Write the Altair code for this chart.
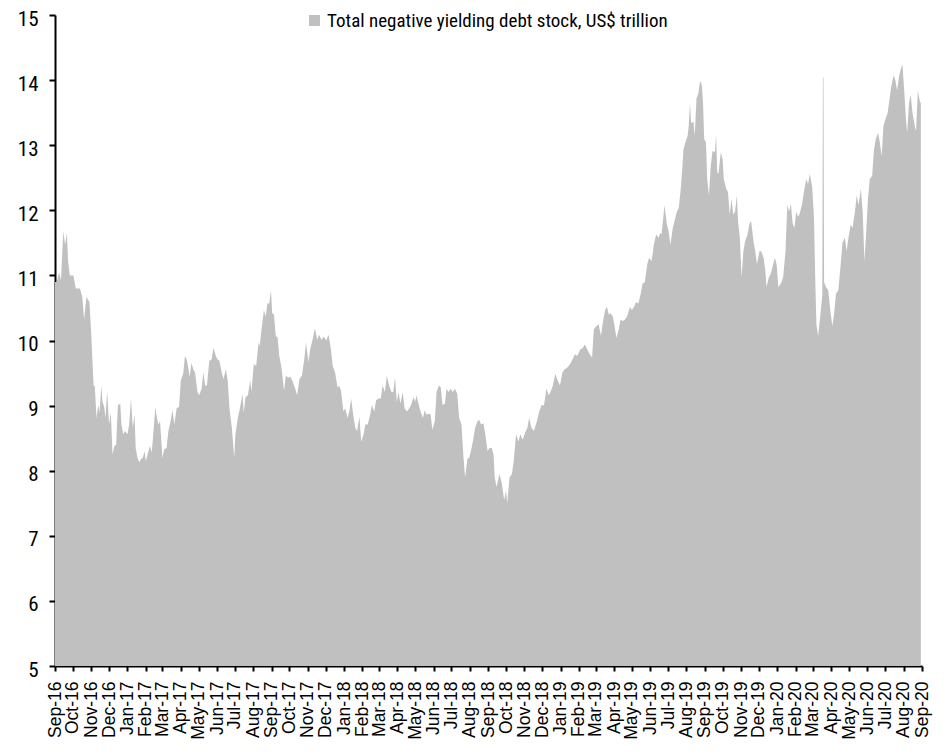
import altair as alt
import pandas as pd

SERIES = "Total negative yielding debt stock, US$ trillion"
START = "2016-09-01"

# Days since 1 Sep 2016
DAY_OFFSET = [
    0, 3, 7, 10, 14, 17, 20, 22, 25, 31, 35, 42, 46, 49, 53, 58, 61, 65, 67, 70, 73, 75, 78, 80, 83, 85, 88, 91, 94, 97,
    100, 103, 106, 110, 112, 115, 118, 122, 125, 128, 131, 134, 136, 139, 142, 145, 148, 151, 153, 156, 160, 163, 166,
    169, 171, 174, 177, 181, 184, 188, 191, 194, 198, 201, 205, 209, 212, 216, 219, 222, 225, 227, 230, 233, 236, 240,
    243, 247, 250, 253, 256, 260, 264, 267, 271, 274, 277, 281, 284, 288, 291, 294, 298, 302, 304, 308, 311, 313, 316,
    318, 321, 325, 329, 331, 335, 339, 343, 345, 348, 352, 355, 358, 361, 364, 366, 369,
    372, 375, 378, 382, 386, 389, 393, 397, 400, 404, 408, 412, 416, 420, 423, 427, 430, 434, 438, 442, 445, 449, 453,
    457, 461, 465, 468, 472, 476, 479, 482, 486, 489, 493, 496, 499, 503, 506, 509, 513, 516, 520, 523, 527, 531, 534,
    538, 541, 545, 549, 552, 556, 559, 563, 567, 570, 573, 576, 579, 582, 586, 589, 593, 597, 600, 604, 607, 609, 613,
    616, 620, 623, 626, 630, 633, 636, 640, 643, 647, 650, 653, 657, 660, 663, 667, 670, 674, 678, 681, 685, 688, 691,
    695, 698, 702, 705, 708, 712, 715, 718, 722, 725, 729, 732,
    736, 739, 741, 744, 749, 753, 757, 760, 762, 766, 770, 773, 777, 781, 784, 788, 792, 796, 799, 803, 807, 812, 816,
    820, 824, 828, 832, 835, 839, 843, 846, 851, 855, 859, 863, 868, 872, 876, 880, 885, 889, 893, 897, 901, 905, 908,
    912, 916, 920, 923, 927, 930, 933, 936, 940, 943, 946, 950, 953, 957, 960, 964, 969, 972, 976, 979, 983, 987, 990,
    994, 998, 1001, 1005,
    1007, 1009, 1013, 1017, 1020, 1022, 1025, 1027, 1031, 1034, 1037, 1041, 1044, 1048, 1051, 1054, 1057, 1059, 1062,
    1066, 1068, 1070, 1072, 1076, 1078, 1081, 1084, 1087, 1090,
    1092, 1094, 1097, 1099, 1102, 1105, 1108, 1112, 1114, 1116, 1118, 1122, 1125, 1127, 1131, 1134, 1137, 1140, 1143,
    1146, 1149, 1151, 1154, 1157, 1160, 1163, 1167, 1170, 1173, 1177, 1180, 1183, 1187, 1190, 1194, 1197, 1199, 1203,
    1206, 1209, 1213, 1216, 1219, 1223, 1227, 1231, 1234, 1237, 1240, 1243, 1246, 1249, 1252, 1255, 1259, 1262, 1266,
    1269, 1272, 1276, 1279, 1281, 1283, 1286, 1290, 1293, 1294, 1295, 1296, 1299, 1303, 1307, 1310, 1313, 1316, 1320,
    1324, 1327, 1331, 1334, 1337, 1341, 1344, 1348, 1351, 1354, 1358, 1361, 1364, 1367, 1370, 1373, 1377, 1380, 1383,
    1387, 1390, 1393, 1396, 1399, 1403, 1406, 1409, 1413, 1416, 1419, 1423, 1426, 1428, 1431, 1434, 1436, 1439, 1442,
    1445, 1449, 1451, 1454, 1457, 1459,
]

# US$ trillion
DEBT_STOCK = [
    10.90, 10.90, 11.05, 10.92, 11.68, 11.47, 11.65, 11.22, 11.00, 11.00, 10.80, 10.80, 10.67, 10.32, 10.67, 10.59,
    10.12, 9.31, 9.30, 8.81, 9.01, 8.89, 9.30, 9.06, 8.98, 8.81, 9.22, 8.71, 8.89, 8.25,
    8.38, 8.40, 9.01, 9.03, 8.71, 8.56, 8.61, 8.56, 8.71, 9.11, 8.66, 8.86, 8.35, 8.20, 8.13, 8.18, 8.20, 8.30, 8.15,
    8.25, 8.38, 8.28, 8.61, 8.98, 8.86, 8.71, 8.76, 8.20, 8.33, 8.35, 8.61, 8.73, 8.93, 8.71, 8.96, 8.98, 9.39, 9.49,
    9.76, 9.71, 9.56, 9.44, 9.66, 9.56, 9.51, 9.21, 9.16, 9.26, 9.51, 9.31, 9.31, 9.69, 9.71, 9.89, 9.76, 9.71, 9.69,
    9.51, 9.41, 9.56, 9.39, 8.96, 8.66, 8.20, 8.56, 8.81, 8.93, 9.03, 9.18, 8.89, 9.13, 9.16, 9.39, 9.21, 9.64, 9.61,
    9.97, 9.92, 10.17, 10.47, 10.37, 10.57, 10.57, 10.77, 10.42, 10.40,
    10.07, 10.05, 9.76, 9.56, 9.23, 9.46, 9.43, 9.44, 9.38, 9.28, 9.16, 9.41, 9.46, 9.71, 9.97, 9.67, 9.86, 10.01,
    10.19, 10.01, 10.09, 10.01, 10.06, 10.00, 10.09, 9.86, 9.61, 9.51, 9.28, 9.30, 9.23, 8.91, 8.96, 8.81, 8.91, 9.11,
    8.83, 8.66, 8.61, 8.83, 8.45, 8.56, 8.71, 8.71, 8.86, 9.01, 8.91, 9.08, 9.11, 9.11, 9.31, 9.21, 9.46, 9.31, 9.21,
    9.21, 9.43, 9.06, 9.21, 9.03, 9.21, 8.96, 8.91, 8.96, 9.01, 9.13, 9.06, 9.16, 9.01, 8.91, 8.81, 8.93, 8.86, 8.88,
    8.86, 8.63, 8.76, 9.21, 9.31, 9.28, 9.01, 9.03, 9.26, 9.21, 9.26, 9.21, 9.26, 9.18, 8.81, 8.71, 8.25, 7.90, 8.18,
    8.20, 8.35, 8.50, 8.66, 8.76, 8.78, 8.71, 8.73, 8.56, 8.30, 8.35,
    8.35, 8.25, 7.90, 7.75, 7.95, 7.80, 7.55, 7.70, 7.50, 7.90, 7.95, 8.15, 8.56, 8.45, 8.56, 8.48, 8.58, 8.66, 8.81,
    8.66, 8.61, 8.76, 8.91, 9.01, 9.00, 9.26, 9.16, 9.21, 9.31, 9.49, 9.41, 9.31, 9.51, 9.56, 9.58, 9.64, 9.71, 9.79,
    9.76, 9.86, 9.88, 9.94, 9.86, 9.79, 9.74, 10.17, 10.22, 10.25, 10.07, 10.27, 10.47, 10.52, 10.40, 10.42, 10.37,
    10.22, 10.04, 10.17, 10.32, 10.30, 10.32, 10.37, 10.52, 10.47, 10.52, 10.59, 10.57, 10.72, 10.87, 10.90, 11.17,
    11.27, 11.22,
    11.32, 11.47, 11.63, 11.58, 11.65, 11.63, 11.88, 12.08, 11.78, 11.68, 11.47, 11.73, 11.83, 11.98, 12.03, 12.28,
    12.63, 12.93, 13.04, 13.14, 13.31, 13.64, 13.34, 13.36, 13.14, 13.72, 13.79, 13.99, 13.92,
    13.64, 13.09, 13.04, 12.48, 12.23, 12.68, 12.91, 12.89, 13.16, 12.58, 12.56, 12.89, 12.78, 12.48, 12.33, 12.28,
    11.93, 12.18, 11.93, 11.98, 12.23, 11.83, 11.58, 10.97, 11.37, 11.53, 11.63, 11.78, 11.84, 11.53, 11.37, 11.17,
    11.37, 11.37, 11.27, 11.07, 10.82, 10.97, 11.02, 11.12, 11.27, 11.17, 10.82, 10.87, 10.97, 11.37, 12.08, 11.98,
    12.10, 11.80, 11.73, 11.98, 11.90, 11.95, 12.10, 12.28, 12.48, 12.40, 12.56, 12.35, 11.88, 11.00, 10.25, 10.07,
    10.42, 10.70, 14.02, 14.05, 10.90, 10.82, 10.77, 10.42, 10.22, 10.42, 10.72, 10.77, 11.17, 11.50, 11.58, 11.37,
    11.58, 11.78, 11.73, 11.98, 12.23, 12.08, 12.33, 11.98, 11.22, 11.68, 12.18, 12.48, 12.53, 12.93, 13.09, 13.19,
    13.04, 12.83, 13.29, 13.39, 13.49, 13.69, 13.89, 14.07, 14.00, 13.84, 14.09, 14.19, 14.24, 13.84, 13.39, 13.19,
    13.64, 13.77, 13.49, 13.29, 13.21, 13.84, 13.69, 13.64,
]

Y_TICKS = [5, 6, 7, 8, 9, 10, 11, 12, 13, 14, 15]
MONTHS = [(2016 + (8 + i) // 12, (8 + i) % 12 + 1) for i in range(49)]  # Sep-16 .. Sep-20

dates = (pd.Timestamp(START) + pd.to_timedelta(DAY_OFFSET, unit="D")).strftime("%Y-%m-%d")
df = pd.DataFrame({"date": dates, "value": DEBT_STOCK, "series": SERIES})

NARROW = "Roboto Condensed, Liberation Sans Narrow, Arial Narrow, Liberation Sans, Arial, sans-serif"
REGULAR = "Liberation Sans, Arial, sans-serif"

month_values = [alt.DateTime(year=y, month=m, date=1, utc=True) for y, m in MONTHS]

chart = (
    alt.Chart(df)
    .mark_area(opacity=1, interpolate="linear")
    .encode(
        x=alt.X(
            "date:T",
            scale=alt.Scale(type="utc", domain=[month_values[0], month_values[-1]], nice=False),
            axis=alt.Axis(
                values=month_values,
                format="%b-%y",
                labelAngle=270,
                labelAlign="right",
                labelBaseline="middle",
                labelOverlap=False,
                labelFont=REGULAR,
                labelFontSize=17.5,
                labelPadding=10,
                labelColor="black",
                tickSize=5,
                tickWidth=2,
                tickColor="black",
                domainColor="black",
                domainWidth=2,
                grid=False,
                title=None,
            ),
        ),
        y=alt.Y(
            "value:Q",
            scale=alt.Scale(domain=[5, 15], zero=False, nice=False),
            axis=alt.Axis(
                values=Y_TICKS,
                labelFont=NARROW,
                labelFontSize=21,
                labelPadding=11,
                labelOffset=4,
                labelColor="black",
                tickSize=6,
                tickWidth=2,
                tickColor="black",
                domainColor="black",
                domainWidth=2,
                grid=False,
                title=None,
            ),
        ),
        y2=alt.datum(5),
        color=alt.Color(
            "series:N",
            scale=alt.Scale(range=["#C0C0C0"]),
            legend=alt.Legend(
                title=None,
                orient="none",
                legendX=250,
                legendY=-4,
                direction="horizontal",
                symbolType="square",
                symbolSize=121,
                symbolStrokeWidth=0,
                symbolOpacity=1,
                labelFont=NARROW,
                labelFontSize=19,
                labelLimit=800,
                labelColor="black",
                labelOffset=3,
                padding=0,
            ),
        ),
    )
    .properties(
        width=867,
        height=651,
        autosize=alt.AutoSizeParams(type="none"),
        padding={"left": 47, "top": 7, "right": 17, "bottom": 74},
    )
    .configure_view(strokeWidth=0)
)

chart.save("out.html", embed_options={"renderer": "svg", "actions": False})
